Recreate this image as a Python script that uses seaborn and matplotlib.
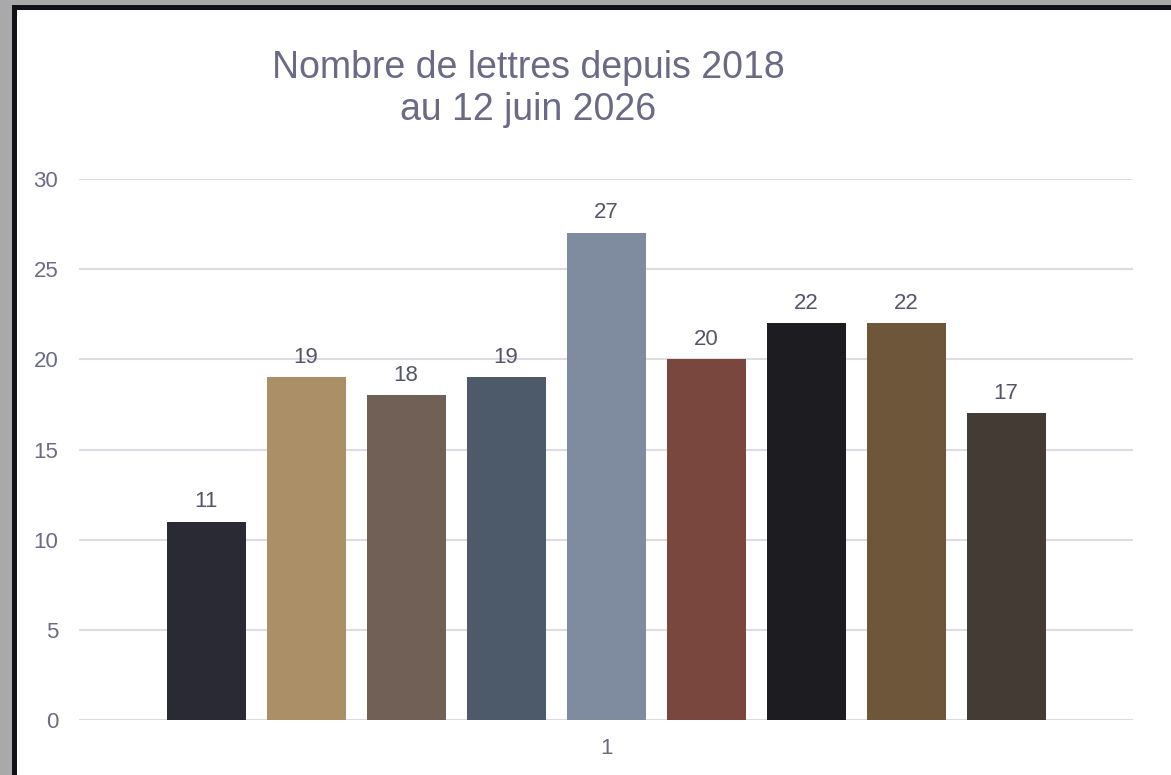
import matplotlib
matplotlib.use("Agg")
import matplotlib.pyplot as plt
import seaborn as sns
import pandas as pd
from matplotlib.patches import Rectangle

categories = ["1"] * 9
series = ["S1", "S2", "S3", "S4", "S5", "S6", "S7", "S8", "S9"]
values = [11, 19, 18, 19, 27, 20, 22, 22, 17]
colors = ["#292a33", "#ab8f66", "#716055", "#4d5a6a", "#7f8c9f",
          "#79473d", "#1c1c21", "#6d5639", "#453b35"]
yticks = [0, 5, 10, 15, 20, 25, 30]

sns.set_theme(style="white")
plt.rcParams["font.family"] = ["Liberation Sans", "DejaVu Sans"]

W, H = 1171, 775
fig = plt.figure(figsize=(W / 100, H / 100), dpi=100)
fig.patch.set_facecolor("#a9a9a9")
# window frame
fig.add_artist(Rectangle((12 / W, 0), 1 - 12 / W, (H - 5) / H, transform=fig.transFigure,
                         facecolor="#111116", edgecolor="none", zorder=0))
fig.add_artist(Rectangle((17 / W, 0), 1 - 17 / W, (H - 10) / H, transform=fig.transFigure,
                         facecolor="white", edgecolor="none", zorder=0))

ax = fig.add_axes([79 / W, (H - 720) / H, (1133 - 79) / W, (720 - 179) / H])
ax.set_facecolor("none")

df = pd.DataFrame({"cat": categories, "series": series, "value": values})
sns.barplot(data=df, x="cat", y="value", hue="series", palette=colors,
            width=900 / 1054, gap=0.21, legend=False, ax=ax, saturation=1,
            linewidth=0, edgecolor="none")

ax.set_ylim(0, 30)
ax.set_xlim(-0.5, 0.5)
ax.set_yticks(yticks)
ax.grid(axis="y", color="#dcdce2", linewidth=1.5)
ax.set_axisbelow(True)
for s in ax.spines.values():
    s.set_visible(False)
ax.set_xlabel("")
ax.set_ylabel("")
txtc = "#6b6b88"
ax.tick_params(axis="y", colors=txtc, labelsize=16, length=0, pad=15)
ax.tick_params(axis="x", colors=txtc, labelsize=16, length=0, pad=13)

for cont in ax.containers:
    ax.bar_label(cont, fmt="%d", padding=7, fontsize=16, color="#55556a")

fig.text(528 / W, 1 - 89 / H, "Nombre de lettres depuis 2018\nau 12 juin 2026",
         ha="center", va="center", fontsize=27, color="#6a6a86", linespacing=1.22)

fig.savefig("out.png", dpi=100, facecolor=fig.get_facecolor())
